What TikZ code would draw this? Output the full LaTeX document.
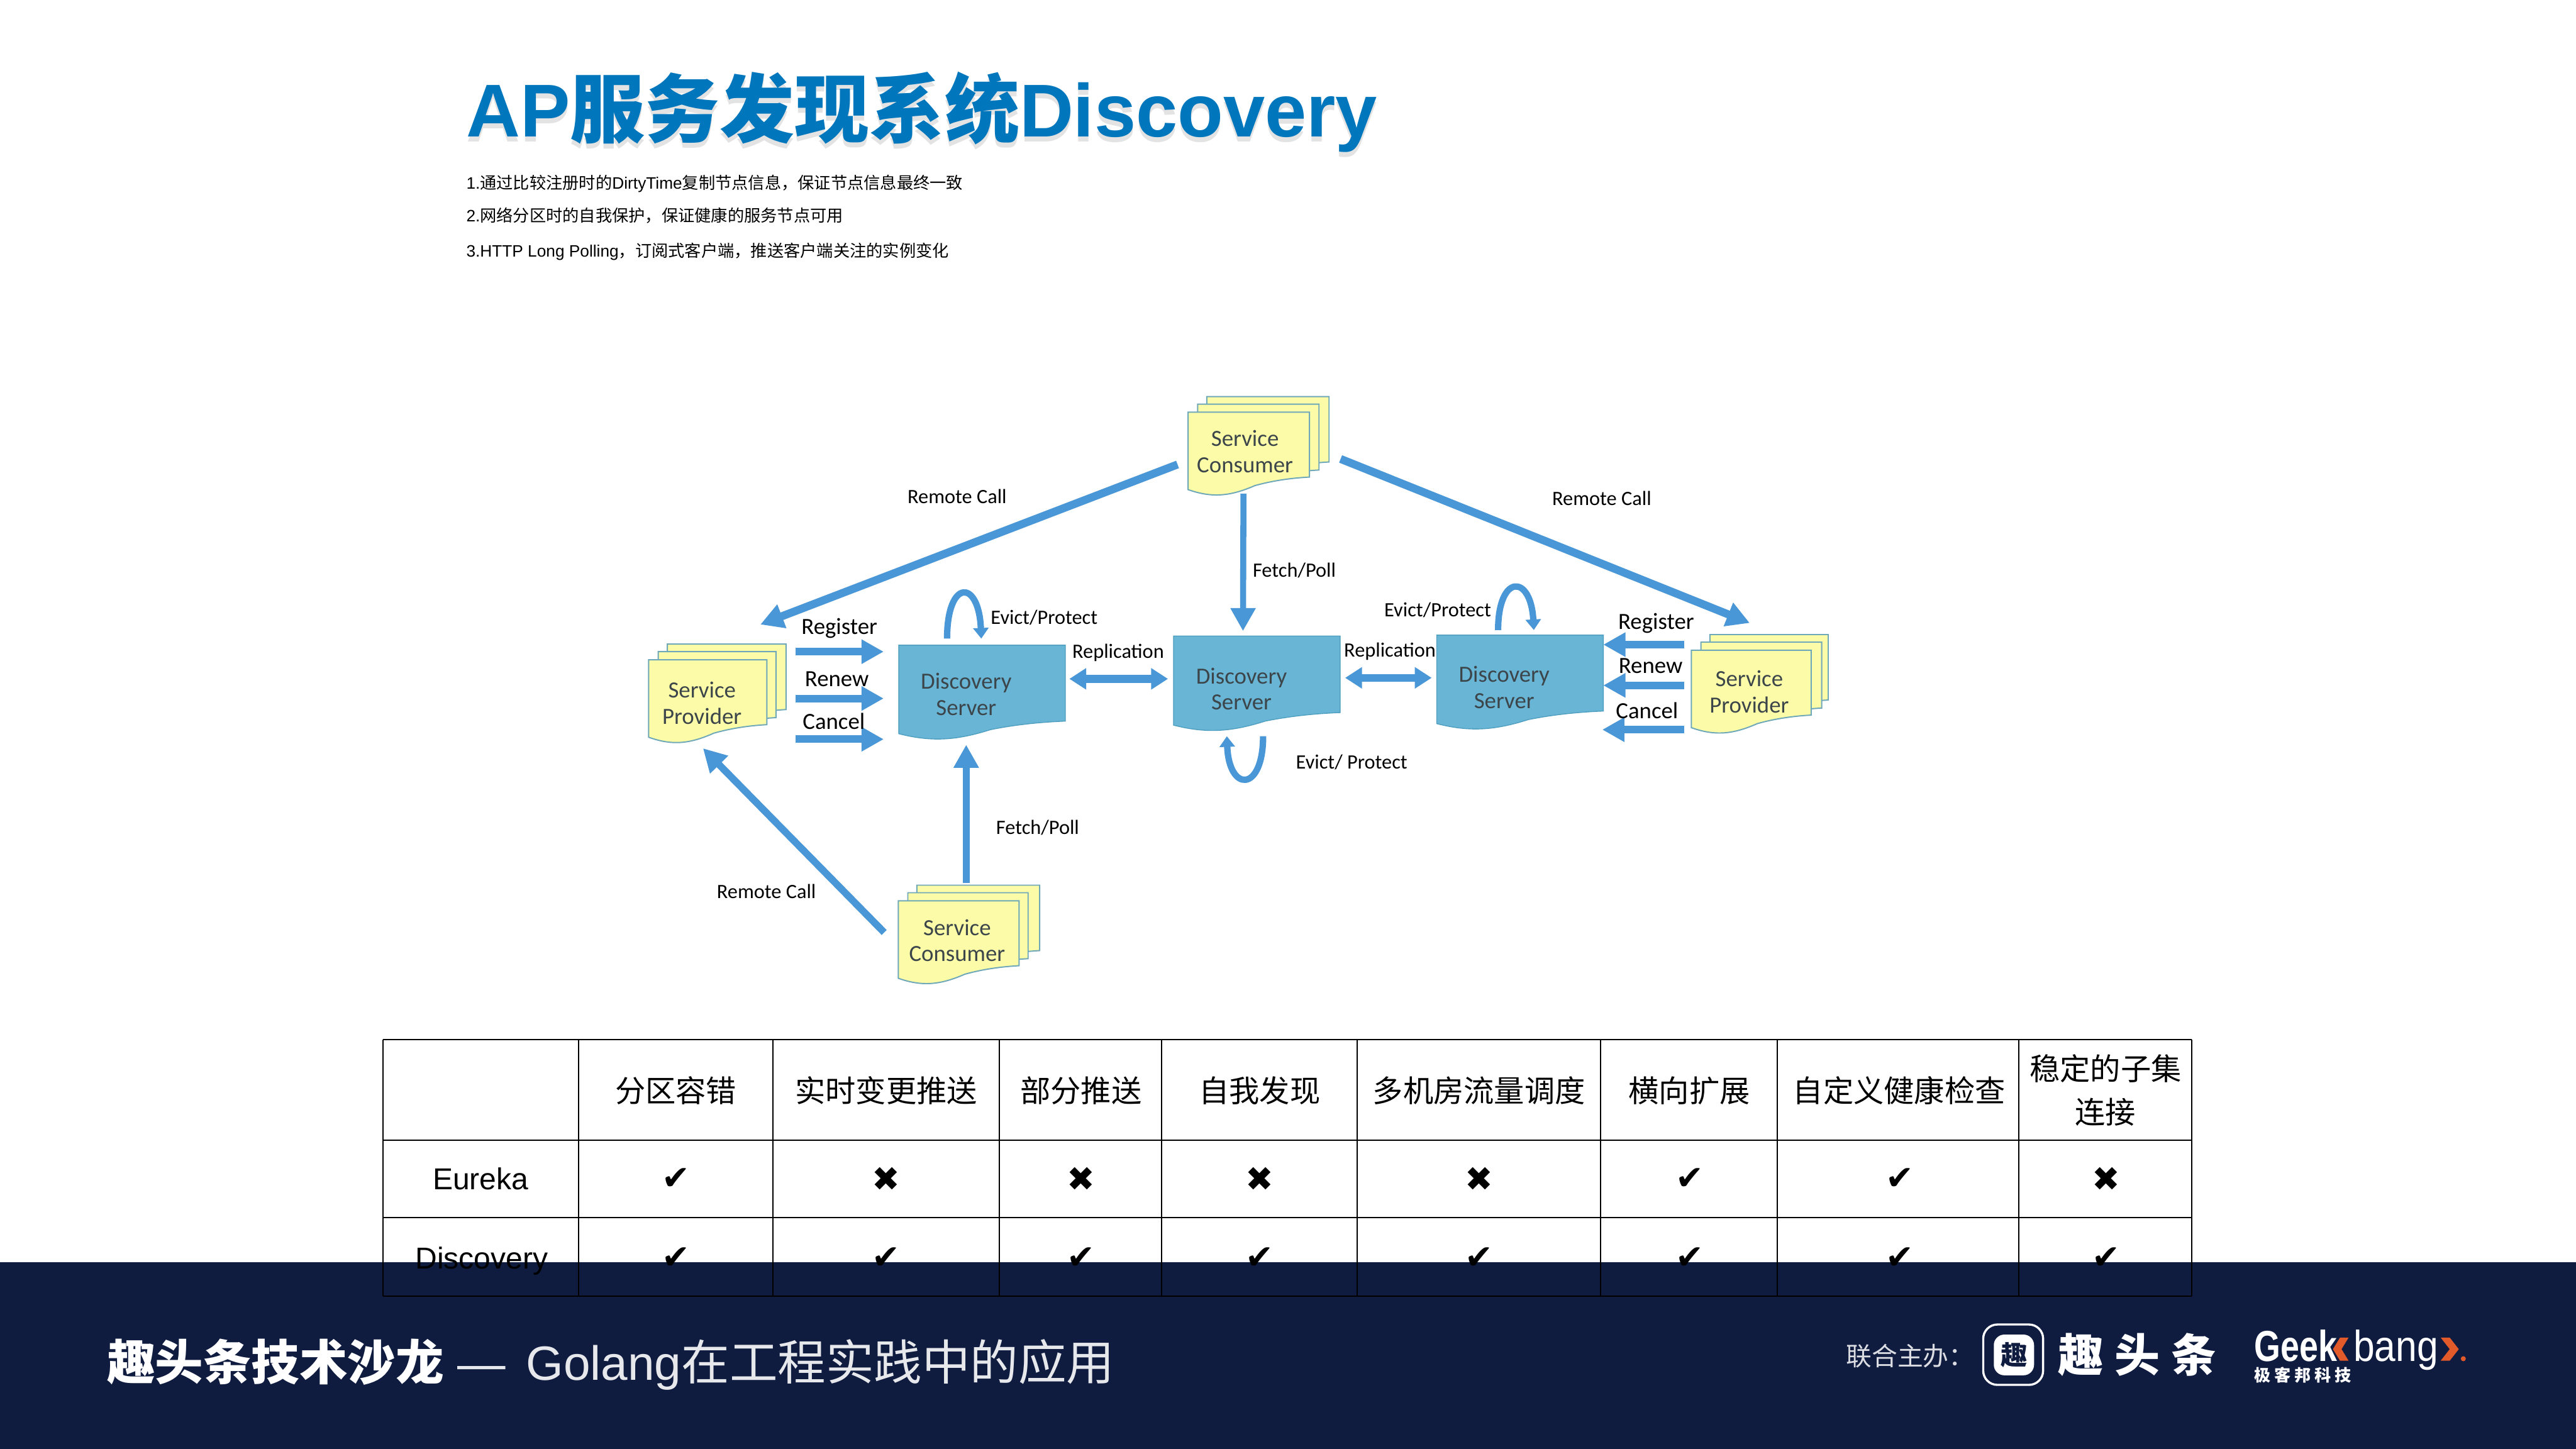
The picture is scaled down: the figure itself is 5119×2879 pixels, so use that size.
\documentclass[tikz,border=0pt]{standalone}
\usepackage{fontspec}
\usetikzlibrary{arrows.meta}
\setmainfont{Liberation Sans}
\newfontfamily\cjk{Noto Sans CJK SC}
\newfontfamily\cjksp[LetterSpace=25]{Noto Sans CJK SC}
\newfontfamily\cjkspb[LetterSpace=22]{Noto Sans CJK SC}
\newfontfamily\carl{Carlito}
\newfontfamily\symf{DejaVu Sans}
\definecolor{navy}{HTML}{0F1C40}
\definecolor{titleblue}{HTML}{0077BC}
\definecolor{arrowblue}{HTML}{4A97D8}
\definecolor{docyellow}{HTML}{FBFBA8}
\definecolor{docedge}{HTML}{6FA8B8}
\definecolor{srvblue}{HTML}{69B5D6}
\definecolor{srvedge}{HTML}{4F9FC0}
\definecolor{boxtext}{HTML}{3C464A}
\definecolor{geekorange}{HTML}{E2592A}
\newcommand\docshape[2]{(0,0) -- (#1,0) -- (#1,#2) .. controls ({.85*#1},{#2+2}) and ({.7*#1},{#2+7}) .. ({.55*#1},{#2+17}) .. controls ({.35*#1},{#2+38}) and ({.2*#1},{#2+42}) .. (0,{#2+25}) -- cycle}
% x, y, front width, middle width, back width
\newcommand\stackdoc[5]{%
  \begin{scope}[shift={(#1,#2)}]
    \path[docpage,shift={(37,-31)}] \docshape{#5}{130};
    \path[docpage,shift={(19,-16)}] \docshape{#4}{131};
    \path[docpage] \docshape{#3}{129};
  \end{scope}}
\tikzset{
  docpage/.style={fill=docyellow,draw=docedge,line width=.7pt},
  srvpage/.style={fill=srvblue,draw=srvedge,line width=.5pt},
  boxlabel/.style={font=\carl\fontsize{13.09}{14.8}\selectfont,text=boxtext,align=center,inner sep=0pt},
  biglabel/.style={font=\carl\fontsize{13.09}{14.8}\selectfont,text=black,inner sep=0pt},
  smalllabel/.style={font=\carl\fontsize{11.5}{14}\selectfont,text=black,inner sep=0pt},
  flow/.style={draw=arrowblue,line width=4.3pt,-{Triangle[length=12.5pt,width=13pt,fill=arrowblue]}},
  longflow/.style={draw=arrowblue,line width=4.5pt,-{Triangle[length=13pt,width=13.5pt,fill=arrowblue]}},
  both/.style={draw=arrowblue,line width=4.4pt,{Triangle[length=9.5pt,width=11.5pt,fill=arrowblue]}-{Triangle[length=9.5pt,width=11.5pt,fill=arrowblue]}},
  loopflow/.style={draw=arrowblue,line width=3.6pt,-{Triangle[length=6pt,width=8.5pt,fill=arrowblue]}},
  tline/.style={draw=black,line width=.7pt},
  hcell/.style={font=\cjk\fontsize{17.15}{25}\selectfont,align=center,inner sep=0pt},
  rcell/.style={font=\fontsize{17.07}{20}\selectfont,inner sep=0pt},
  symcell/.style={font=\symf\fontsize{19}{22}\selectfont,inner sep=0pt},
  bodyline/.style={font=\fontsize{9.33}{12}\selectfont,anchor=base west,inner sep=0pt},
  banw/.style={text=white,inner sep=0pt},
}
\begin{document}
\begin{tikzpicture}[x=0.01cm,y=-0.01cm]
\useasboundingbox (0,0) rectangle (5119,2879);
\fill[white] (0,0) rectangle (5119,2879);
\fill[navy] (0,2508) rectangle (5119,2879);

% title
\node[anchor=base west,inner sep=0pt,text=black,opacity=.11,font=\fontsize{42.3}{50}\selectfont] (titleshadow) at (926,282) {\bfseries AP{\cjk\bfseries 服务发现系统}Discovery};
\node[anchor=base west,inner sep=0pt,text=titleblue,font=\fontsize{42.3}{50}\selectfont] (title) at (926,272) {\bfseries AP{\cjk\bfseries 服务发现系统}Discovery};
\node[bodyline] (l1) at (926,375) {1.{\cjk 通过比较注册时的}DirtyTime{\cjk 复制节点信息，保证节点信息最终一致}};
\node[bodyline] (l2) at (926,441) {2.{\cjk 网络分区时的自我保护，保证健康的服务节点可用}};
\node[bodyline] (l3) at (926,511) {3.HTTP Long Polling{\cjk ，订阅式客户端，推送客户端关注的实例变化}};

% document stacks
\stackdoc{1289}{1311}{235}{234}{236}
\stackdoc{2361}{819}{241}{241}{243}
\stackdoc{1785}{1790}{240}{239}{244}
\stackdoc{3361}{1292}{238}{240}{235}
% servers
\path[srvpage,shift={(1786,1282)}] \docshape{331}{151};
\path[srvpage,shift={(2332,1264)}] \docshape{331}{152};
\path[srvpage,shift={(2855,1262)}] \docshape{331}{151};

\node[boxlabel] (provL) at (1395,1397) {Service\\Provider};
\node[boxlabel] (consT) at (2474,897) {Service\\Consumer};
\node[boxlabel] (consB) at (1902,1869) {Service\\Consumer};
\node[boxlabel] (provR) at (3476,1375) {Service\\Provider};
\node[boxlabel] (srvL) at (1920,1380) {Discovery\\Server};
\node[boxlabel] (srvM) at (2467,1369) {Discovery\\Server};
\node[boxlabel] (srvR) at (2989,1366) {Discovery\\Server};

% connector ends
\coordinate (a1) at (2340,923);  \coordinate (a2) at (1511,1241);
\coordinate (b1) at (2664,912);  \coordinate (b2) at (3477,1238);
\coordinate (c1) at (2471,981);  \coordinate (c2) at (2470,1254);
\coordinate (d1) at (1920,1755); \coordinate (d2) at (1920,1480);
\coordinate (e1) at (1757,1853); \coordinate (e2) at (1397,1487);
\coordinate (f1) at (2125,1349); \coordinate (f2) at (2321,1349);
\coordinate (g1) at (2673,1347); \coordinate (g2) at (2845,1347);
\coordinate (h1) at (1581,1295); \coordinate (h2) at (1756,1295);
\coordinate (i1) at (1581,1388); \coordinate (i2) at (1756,1388);
\coordinate (j1) at (1581,1469); \coordinate (j2) at (1756,1469);
\coordinate (k1) at (3347,1281); \coordinate (k2) at (3186,1281);
\coordinate (m1) at (3347,1362); \coordinate (m2) at (3186,1362);
\coordinate (n1) at (3347,1450); \coordinate (n2) at (3184,1450);
\coordinate (o1) at (1882,1269); \coordinate (o2) at (1950,1269);
\coordinate (p1) at (2977,1252); \coordinate (p2) at (3048,1252);
\coordinate (q1) at (2510,1463); \coordinate (q2) at (2438,1463);

\draw[longflow] (a1) -- (a2);
\draw[longflow] (b1) -- (b2);
\draw[longflow,line width=3.4pt] (c1) -- (c2);
\draw[longflow,line width=4pt] (d1) -- (d2);
\draw[longflow,line width=4pt] (e1) -- (e2);
\draw[both] (f1) -- (f2);
\draw[both] (g1) -- (g2);
\draw[flow] (h1) -- (h2);
\draw[flow] (i1) -- (i2);
\draw[flow] (j1) -- (j2);
\draw[flow] (k1) -- (k2);
\draw[flow] (m1) -- (m2);
\draw[flow] (n1) -- (n2);
\draw[loopflow] (o1) .. controls (1882,1150) and (1945,1150) .. (o2);
\draw[loopflow] (p1) .. controls (2977,1140) and (3042,1140) .. (p2);
\draw[loopflow] (q1) .. controls (2510,1575) and (2442,1575) .. (q2);

% labels
\node[smalllabel] (t1) at (1902,987) {Remote Call};
\node[smalllabel] (t2) at (3183,990) {Remote Call};
\node[smalllabel] (t3) at (1523,1771) {Remote Call};
\node[smalllabel] (t4) at (2572,1134) {Fetch/Poll};
\node[smalllabel] (t5) at (2062,1645) {Fetch/Poll};
\node[smalllabel] (t6) at (2075,1227) {Evict/Protect};
\node[smalllabel] (t7) at (2857,1212) {Evict/Protect};
\node[smalllabel] (t8) at (2686,1515) {Evict/ Protect};
\node[smalllabel] (t9) at (2222,1297) {Replication};
\node[smalllabel] (t10) at (2762,1294) {Replication};
\node[biglabel] (t11) at (1668,1248) {Register};
\node[biglabel] (t12) at (1663,1349) {Renew};
\node[biglabel] (t13) at (1657,1433) {Cancel};
\node[biglabel] (t14) at (3291,1238) {Register};
\node[biglabel] (t15) at (3280,1323) {Renew};
\node[biglabel] (t16) at (3273,1412) {Cancel};

% table
\foreach \yy in {2066,2266,2419,2576} \draw[tline] (761,\yy) -- (4355,\yy);
\foreach \xx in {761,1150,1536,1986,2308,2697,3180,3532,4012,4355} \draw[tline] (\xx,2066) -- (\xx,2576);
\node[hcell] (h1c) at (1343,2167) {分区容错};
\node[hcell] (h2c) at (1761,2167) {实时变更推送};
\node[hcell] (h3c) at (2148,2167) {部分推送};
\node[hcell] (h4c) at (2503,2167) {自我发现};
\node[hcell] (h5c) at (2939,2167) {多机房流量调度};
\node[hcell] (h6c) at (3357,2167) {横向扩展};
\node[hcell] (h7c) at (3774,2167) {自定义健康检查};
\node[hcell,font=\cjk\fontsize{17.15}{24.6}\selectfont] (h8c) at (4184,2166) {稳定的子集\\连接};
\node[rcell] (r1) at (955,2343) {Eureka};
\node[rcell] (r2) at (957,2506) {Discovery};
\foreach \xx/\sy [count=\i] in {1343/✔,1761/✖,2148/✖,2503/✖,2939/✖,3358/✔,3775/✔,4185/✖}
  \node[symcell] (ea\i) at (\xx,2343) {\sy};
\foreach \xx [count=\i] in {1343,1761,2148,2503,2939,3358,3775,4185}
  \node[symcell] (di\i) at (\xx,2500) {✔};

% banner text
\node[banw,anchor=base west,font=\cjk\bfseries\fontsize{27.2}{32}\selectfont] (bn1) at (212,2742) {趣头条技术沙龙};
\node[banw,anchor=base west,text=white!90!navy,font=\fontsize{27.2}{32}\selectfont] (bn2) at (908,2742) {—};
\node[banw,anchor=base west,text=white!90!navy,font=\fontsize{27.2}{32}\selectfont] (bn3) at (1045,2742) {Golang{\cjk 在工程实践中的应用}};
\node[banw,anchor=west,text=white!85!navy,font=\cjk\fontsize{14.5}{18}\selectfont] (bn4) at (3668,2694) {联合主办：};
\draw[white,line width=1.2pt,rounded corners=8pt] (3941,2632) rectangle (4060,2752);
\fill[white,rounded corners=6pt] (3962,2652) rectangle (4042,2733);
\node[inner sep=0pt,text=navy,font=\cjk\bfseries\fontsize{15}{18}\selectfont] (bn5) at (4002,2693) {趣};
\node[banw,anchor=west,font=\cjksp\bfseries\fontsize{25.6}{30}\selectfont] (bn6) at (4089,2692) {趣头条};
\node[banw,anchor=base west,font=\bfseries\fontsize{24.5}{30}\selectfont] (bn7) at (4479,2705) {\scalebox{.78}[1]{Geek}};
\node[banw,anchor=base west,font=\fontsize{24.5}{30}\selectfont] (bn8) at (4676,2705) {\scalebox{.88}[1]{bang}};
\fill[geekorange] (4650,2658) -- (4667,2658) -- (4653,2681) -- (4667,2704) -- (4650,2704) -- (4636,2681) -- cycle;
\fill[geekorange] (4850,2658) -- (4868,2658) -- (4886,2681) -- (4868,2704) -- (4850,2704) -- (4868,2681) -- cycle;
\fill[geekorange] (4895,2700) circle (5);
\node[banw,anchor=west,font=\cjkspb\bfseries\fontsize{9.3}{12}\selectfont] (bn9) at (4479,2732) {极客邦科技};
\end{tikzpicture}
\end{document}
